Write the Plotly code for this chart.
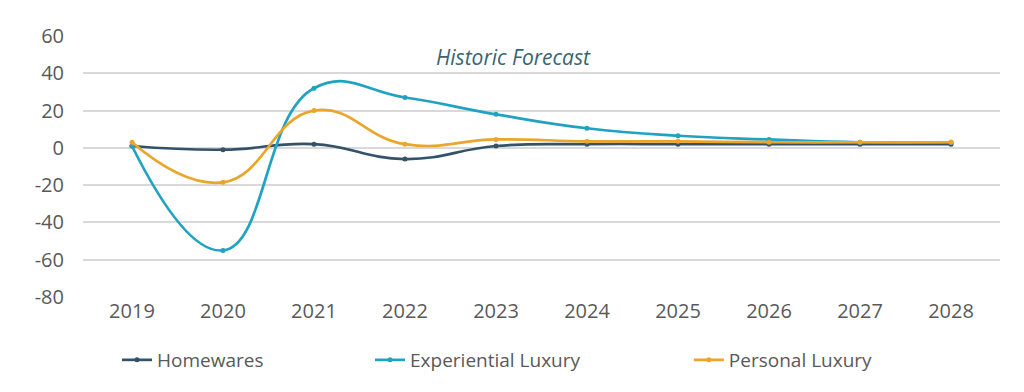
import plotly.graph_objects as go

years = ["2019", "2020", "2021", "2022", "2023", "2024", "2025", "2026", "2027", "2028"]
homewares = [1, -1, 2, -6, 1, 2, 2, 2, 2, 2]
experiential = [1, -55, 32, 27, 18, 10.5, 6.5, 4.5, 3, 3]
personal = [3, -18.5, 20, 2, 4.5, 3.5, 3.5, 3, 3, 3]
y_ticks = [-80, -60, -40, -20, 0, 20, 40, 60]
y_tick_text = ["-80", "-60", "-40", "-20", "0", "20", "40", "60"]

series = [
    ("Homewares", homewares, "#34536b", "legend", 0.0371),
    ("Experiential Luxury", experiential, "#1fa3c1", "legend2", 0.313),
    ("Personal Luxury", personal, "#eba52b", "legend3", 0.6607),
]

fig = go.Figure()
for name, vals, col, lg, _ in series:
    fig.add_trace(go.Scatter(
        x=years, y=vals, name=name, mode="lines+markers", legend=lg,
        line=dict(color=col, width=2.7, shape="spline", smoothing=1.3),
        marker=dict(color=col, size=5),
    ))

font_family = "Open Sans, Liberation Sans, sans-serif"
legend_common = dict(orientation="h", yref="container", y=0.0833, yanchor="middle",
                     xanchor="left", font=dict(size=19, color="#595959"),
                     bgcolor="rgba(0,0,0,0)")
layout_legends = {}
for name, vals, col, lg, xp in series:
    layout_legends[lg] = dict(x=xp, **legend_common)

fig.update_layout(
    width=1016, height=384,
    margin=dict(l=75, r=24, t=28, b=95, autoexpand=False),
    plot_bgcolor="white", paper_bgcolor="white",
    font=dict(family=font_family, size=20, color="#595959"),
    showlegend=True,
    annotations=[dict(text="<i>Historic Forecast</i>", xref="paper", yref="y",
                      x=0.469, y=48.5, showarrow=False,
                      font=dict(size=21, color="#3a6470"))],
    **layout_legends,
)
fig.update_xaxes(showgrid=False, showline=False, ticks="", tickfont=dict(size=20, color="#595959"))
fig.update_yaxes(range=[-80, 60], tickvals=y_ticks, ticktext=y_tick_text,
                 showgrid=True, gridcolor="#d9d9d9", gridwidth=1.5,
                 zeroline=False, ticks="", ticklabelstandoff=18,
                 tickfont=dict(size=20, color="#595959"))

fig.write_html("out.html")
